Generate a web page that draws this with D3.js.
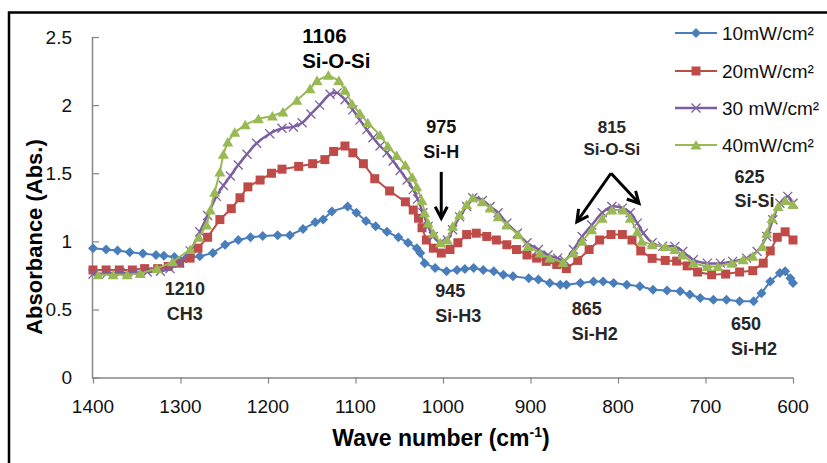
<!DOCTYPE html>
<html>
<head>
<meta charset="utf-8">
<script src="https://cdn.jsdelivr.net/npm/d3@7"></script>
<style>
  body { margin: 0; background: #fff; }
  svg { display: block; font-family: "Liberation Sans", Arial, sans-serif; }
</style>
</head>
<body>
<div id="chart"></div>
<script>
// FTIR absorbance spectra
const wave10 = [1400, 1385, 1372, 1358, 1343, 1328, 1319, 1307, 1294, 1278, 1263, 1249, 1234, 1220, 1206, 1189, 1175, 1160, 1146, 1137, 1127, 1109, 1099, 1088, 1077, 1064, 1051, 1040, 1030, 1026, 1021, 1009, 996, 984, 975, 965, 954, 942, 931, 920, 902, 891, 878, 866, 859, 843, 828, 817, 805, 790, 775, 760, 744, 729, 718, 706, 691, 676, 661, 645, 636, 626, 615, 609, 603, 600];
const abs10 = [0.95, 0.94, 0.933, 0.92, 0.91, 0.90, 0.895, 0.885, 0.875, 0.89, 0.915, 0.975, 1.01, 1.03, 1.04, 1.045, 1.045, 1.09, 1.14, 1.16, 1.22, 1.256, 1.21, 1.15, 1.11, 1.07, 1.03, 0.99, 0.95, 0.914, 0.84, 0.804, 0.78, 0.79, 0.797, 0.804, 0.79, 0.78, 0.755, 0.743, 0.73, 0.72, 0.694, 0.682, 0.682, 0.694, 0.706, 0.706, 0.694, 0.682, 0.67, 0.645, 0.64, 0.633, 0.61, 0.584, 0.572, 0.572, 0.56, 0.56, 0.62, 0.706, 0.768, 0.78, 0.73, 0.694];

const wave20 = [1400, 1385, 1370, 1355, 1341, 1326, 1314, 1301, 1289, 1280, 1269, 1255, 1242, 1232, 1223, 1209, 1196, 1184, 1165, 1149, 1135, 1125, 1112, 1103, 1091, 1078, 1061, 1043, 1034, 1028, 1024, 1019, 1011, 1002, 992, 983, 973, 962, 950, 939, 927, 916, 904, 893, 882, 870, 859, 846, 833, 821, 808, 795, 784, 774, 761, 746, 733, 721, 709, 693, 677, 661, 646, 634, 626, 618, 609, 600];
const abs20 = [0.79, 0.79, 0.79, 0.79, 0.80, 0.80, 0.816, 0.84, 0.877, 0.95, 1.03, 1.16, 1.24, 1.32, 1.40, 1.45, 1.50, 1.53, 1.55, 1.57, 1.60, 1.66, 1.70, 1.65, 1.57, 1.46, 1.37, 1.29, 1.23, 1.17, 1.10, 1.01, 0.95, 0.914, 0.94, 0.99, 1.05, 1.06, 1.036, 1.01, 0.975, 0.94, 0.90, 0.877, 0.853, 0.83, 0.80, 0.86, 0.94, 1.01, 1.05, 1.05, 1.01, 0.93, 0.875, 0.86, 0.855, 0.82, 0.775, 0.755, 0.76, 0.775, 0.785, 0.84, 0.93, 1.03, 1.07, 1.01];

const wave30 = [1400, 1384, 1369, 1353, 1338, 1323, 1312, 1301, 1289, 1278, 1269, 1259, 1251, 1243, 1234, 1224, 1213, 1198, 1184, 1171, 1161, 1151, 1141, 1129, 1121, 1112, 1103, 1095, 1087, 1080, 1072, 1064, 1057, 1049, 1041, 1034, 1029, 1023, 1017, 1011, 1003, 995, 989, 981, 973, 966, 955, 946, 937, 927, 915, 904, 891, 880, 869, 861, 851, 841, 830, 818, 807, 795, 786, 778, 771, 761, 749, 735, 726, 714, 698, 683, 669, 653, 641, 630, 623, 615, 606, 600];
const abs30 = [0.76, 0.765, 0.77, 0.77, 0.775, 0.78, 0.80, 0.84, 0.93, 1.07, 1.19, 1.33, 1.41, 1.48, 1.56, 1.64, 1.72, 1.79, 1.83, 1.84, 1.87, 1.935, 2.00, 2.08, 2.09, 2.04, 1.965, 1.89, 1.82, 1.76, 1.70, 1.65, 1.59, 1.52, 1.45, 1.38, 1.31, 1.21, 1.11, 1.036, 0.99, 1.01, 1.085, 1.18, 1.256, 1.32, 1.30, 1.256, 1.21, 1.134, 1.06, 0.99, 0.94, 0.90, 0.877, 0.86, 0.94, 1.036, 1.12, 1.21, 1.256, 1.244, 1.21, 1.134, 1.06, 0.99, 0.963, 0.963, 0.926, 0.865, 0.84, 0.84, 0.853, 0.877, 0.926, 1.036, 1.158, 1.28, 1.33, 1.28];

const wave40 = [1394, 1377, 1361, 1346, 1327, 1309, 1289, 1279, 1270, 1266, 1261, 1255, 1251, 1246, 1238, 1226, 1211, 1195, 1183, 1167, 1152, 1144, 1131, 1119, 1112, 1104, 1095, 1086, 1072, 1063, 1053, 1043, 1035, 1030, 1024, 1021, 1017, 1011, 1003, 995, 989, 981, 973, 966, 955, 946, 937, 927, 914, 903, 889, 878, 863, 851, 841, 830, 818, 807, 794, 786, 778, 773, 761, 746, 735, 726, 714, 698, 686, 670, 657, 646, 635, 630, 624, 617, 609, 600];
const abs40 = [0.755, 0.755, 0.755, 0.765, 0.80, 0.85, 0.94, 1.03, 1.12, 1.23, 1.36, 1.51, 1.64, 1.73, 1.80, 1.855, 1.90, 1.92, 1.95, 2.035, 2.12, 2.18, 2.22, 2.18, 2.11, 2.01, 1.94, 1.87, 1.78, 1.70, 1.63, 1.56, 1.47, 1.40, 1.30, 1.21, 1.134, 1.06, 0.99, 1.01, 1.11, 1.195, 1.27, 1.32, 1.29, 1.244, 1.18, 1.12, 1.05, 0.963, 0.914, 0.877, 0.845, 0.914, 1.0, 1.085, 1.17, 1.23, 1.23, 1.17, 1.07, 1.0, 0.975, 0.963, 0.94, 0.90, 0.84, 0.816, 0.816, 0.84, 0.865, 0.89, 0.963, 1.06, 1.17, 1.256, 1.30, 1.27];

const seriesNames = ['10mW/cm\u00b2', '20mW/cm\u00b2', '30 mW/cm\u00b2', '40mW/cm\u00b2'];
const xTicks = [1400, 1300, 1200, 1100, 1000, 900, 800, 700, 600];
const yTicks = [0, 0.5, 1, 1.5, 2, 2.5];

const width = 827, height = 463;
const margin = { left: 92, right: 34, top: 37, bottom: 85 };

const svg = d3.select('#chart').append('svg')
  .attr('width', width).attr('height', height);

svg.append('rect').attr('width', width).attr('height', height).attr('fill', '#fff');

// outer frame (cropped at right and bottom)
svg.append('rect')
  .attr('x', 9).attr('y', 12.5).attr('width', 900).attr('height', 600)
  .attr('fill', 'none').attr('stroke', '#000').attr('stroke-width', 2.5);

const x = d3.scaleLinear().domain([1400, 600]).range([margin.left + 1, width - margin.right]);
const y = d3.scaleLinear().domain([0, 2.5]).range([height - margin.bottom - 0.4, margin.top]);

const axisColor = '#868686';

// y axis, ticks drawn inward
const yAxis = svg.append('g')
  .attr('transform', `translate(${margin.left},0)`)
  .call(d3.axisRight(y).tickValues(yTicks).tickSize(7).tickFormat(''));
yAxis.select('.domain').attr('stroke', axisColor).attr('stroke-width', 1.5).attr('d', `M0.5,${y(2.5)}V${y(0)}`);
yAxis.selectAll('.tick line').attr('stroke', axisColor).attr('stroke-width', 1.2);

svg.append('g').selectAll('text').data(yTicks).join('text')
  .attr('x', 72).attr('y', d => y(d)).attr('dy', '0.36em')
  .attr('text-anchor', 'end').attr('font-size', 19).attr('fill', '#111')
  .text(d => d);

// x axis
const xAxis = svg.append('g')
  .attr('transform', `translate(0,${y(0)})`)
  .call(d3.axisBottom(x).tickValues(xTicks).tickSize(6).tickFormat(''));
xAxis.select('.domain').attr('stroke', axisColor).attr('stroke-width', 1.5).attr('d', `M${margin.left},0.5H${x(600)}`);
xAxis.selectAll('.tick line').attr('stroke', axisColor).attr('stroke-width', 1.2);

svg.append('g').selectAll('text').data(xTicks).join('text')
  .attr('x', d => x(d)).attr('y', 413)
  .attr('text-anchor', 'middle').attr('font-size', 19).attr('fill', '#111')
  .text(d => d);

// axis titles
const xTitle = svg.append('text')
  .attr('x', (x(1400) + x(600)) / 2 - 2).attr('y', 446)
  .attr('text-anchor', 'middle').attr('font-size', 23).attr('font-weight', 'bold');
xTitle.append('tspan').text('Wave number (cm');
xTitle.append('tspan').attr('font-size', 14).attr('dy', -9).text('-1');
xTitle.append('tspan').attr('dy', 9).text(')');

svg.append('text')
  .attr('transform', 'translate(42,237) rotate(-90)')
  .attr('text-anchor', 'middle').attr('font-size', 22).attr('font-weight', 'bold')
  .text('Absorbance (Abs.)');

// marker shapes
const shapes = {
  diamond: s => `M0,${-s}L${s},0L0,${s}L${-s},0Z`,
  square: s => `M${-s},${-s}H${s}V${s}H${-s}Z`,
  cross: s => `M${-s},${-s}L${s},${s}M${s},${-s}L${-s},${s}`,
  triangle: s => `M0,${-s}L${s * 1.1},${s * 0.9}L${-s * 1.1},${s * 0.9}Z`,
};

const series = [
  { name: seriesNames[0], xs: wave10, ys: abs10, color: '#4A7EBB', shape: 'diamond', size: 5, lw: 2, curve: d3.curveLinear },
  { name: seriesNames[1], xs: wave20, ys: abs20, color: '#BE4B48', shape: 'square', size: 4.5, lw: 2, curve: d3.curveLinear },
  { name: seriesNames[2], xs: wave30, ys: abs30, color: '#7D5FA0', shape: 'cross', size: 4.5, lw: 2.5, curve: d3.curveCatmullRom.alpha(0.5) },
  { name: seriesNames[3], xs: wave40, ys: abs40, color: '#98B954', shape: 'triangle', size: 5, lw: 2, curve: d3.curveLinear },
];

const plot = svg.append('g');

series.forEach(s => {
  const pts = s.xs.map((w, i) => [w, s.ys[i]]);
  const line = d3.line().x(d => x(d[0])).y(d => y(d[1])).curve(s.curve);
  plot.append('path').datum(pts)
    .attr('d', line).attr('fill', 'none')
    .attr('stroke', s.color).attr('stroke-width', s.lw).attr('stroke-linejoin', 'round');
  const marks = plot.append('g').selectAll('path').data(pts).join('path')
    .attr('transform', d => `translate(${x(d[0])},${y(d[1])})`)
    .attr('d', shapes[s.shape](s.size));
  if (s.shape === 'cross') {
    marks.attr('fill', 'none').attr('stroke', s.color).attr('stroke-width', 1.3);
  } else {
    marks.attr('fill', s.color).attr('stroke', 'none');
  }
});

// legend
const legend = svg.append('g');
const legendY = [33, 71, 108, 145];
series.forEach((s, i) => {
  const g = legend.append('g').attr('transform', `translate(675,${legendY[i]})`);
  g.append('rect').attr('x', -2).attr('y', -14).attr('width', 150).attr('height', 28).attr('fill', '#fff');
  g.append('line').attr('x1', 0).attr('x2', 42).attr('stroke', s.color).attr('stroke-width', s.lw);
  const m = g.append('path').attr('transform', 'translate(21,0)').attr('d', shapes[s.shape](s.size));
  if (s.shape === 'cross') m.attr('fill', 'none').attr('stroke', s.color).attr('stroke-width', 1.3);
  else m.attr('fill', s.color);
  g.append('text').attr('x', 47).attr('dy', '0.36em').attr('font-size', 19).attr('fill', '#111').text(s.name);
});

// peak labels
const notes = [
  { lines: ['1106', 'Si-O-Si'], w: 1161, a: 2.455, anchor: 'start', size: 20.5, gap: 25, color: '#000' },
  { lines: ['1210', 'CH3'], w: 1295, a: 0.606, anchor: 'middle', size: 18, gap: 25, color: '#262626' },
  { lines: ['975', 'Si-H'], w: 1002, a: 1.795, anchor: 'middle', size: 18, gap: 25, color: '#111' },
  { lines: ['945', 'Si-H3'], w: 1009, a: 0.591, anchor: 'start', size: 18, gap: 25, color: '#262626' },
  { lines: ['865', 'Si-H2'], w: 853, a: 0.459, anchor: 'start', size: 18, gap: 25, color: '#262626' },
  { lines: ['650', 'Si-H2'], w: 671, a: 0.349, anchor: 'start', size: 18, gap: 25, color: '#262626' },
  { lines: ['625', 'Si-Si'], w: 667, a: 1.428, anchor: 'start', size: 18, gap: 24, color: '#262626' },
  { lines: ['815', 'Si-O-Si'], w: 807, a: 1.795, anchor: 'middle', size: 17, gap: 22, color: '#262626' },
];
notes.forEach(n => {
  const t = svg.append('text')
    .attr('x', x(n.w)).attr('y', y(n.a))
    .attr('text-anchor', n.anchor).attr('font-size', n.size)
    .attr('font-weight', 'bold').attr('fill', n.color);
  n.lines.forEach((l, i) => t.append('tspan').attr('x', x(n.w)).attr('dy', i ? n.gap : 0).text(l));
});

// arrows
const arrows = [
  [[1002, 1.51], [1002, 1.17]],
  [[808, 1.50], [847, 1.144]],
  [[808, 1.50], [776, 1.279]],
];
arrows.forEach(([p0, p1]) => {
  const x0 = x(p0[0]), y0 = y(p0[1]), x1 = x(p1[0]), y1 = y(p1[1]);
  const ang = Math.atan2(y1 - y0, x1 - x0);
  const hl = 13, ha = Math.PI / 6.5;
  const head = [
    [x1 - hl * Math.cos(ang - ha), y1 - hl * Math.sin(ang - ha)],
    [x1, y1],
    [x1 - hl * Math.cos(ang + ha), y1 - hl * Math.sin(ang + ha)],
  ];
  svg.append('line').attr('x1', x0).attr('y1', y0).attr('x2', x1).attr('y2', y1)
    .attr('stroke', '#000').attr('stroke-width', 3);
  svg.append('path').attr('d', d3.line()(head)).attr('fill', 'none')
    .attr('stroke', '#000').attr('stroke-width', 3).attr('stroke-linejoin', 'miter');
});
</script>
</body>
</html>
